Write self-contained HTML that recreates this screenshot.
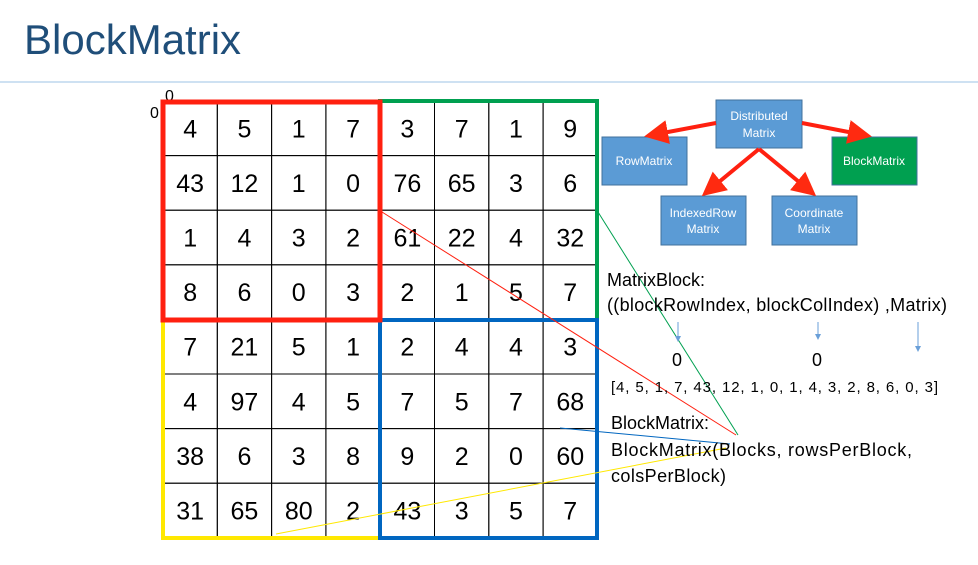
<!DOCTYPE html>
<html><head><meta charset="utf-8"><style>
body{margin:0;width:978px;height:560px;background:#fff;overflow:hidden;font-family:"Liberation Sans",sans-serif}
</style></head><body>
<svg width="978" height="560" style="font-family:'Liberation Sans',sans-serif">
<defs><marker id="ar" markerWidth="6" markerHeight="6" refX="4" refY="3" orient="auto"><path d="M0,0L6,3L0,6z" fill="#ff2a10"/></marker>
<marker id="ab" markerWidth="6" markerHeight="6" refX="4" refY="3" orient="auto"><path d="M0,0L6,3L0,6z" fill="#6a9fd8"/></marker></defs>
<text x="24" y="54" font-size="42" fill="#1f4e79">BlockMatrix</text>
<line x1="0" y1="82" x2="978" y2="82" stroke="#9dc3e6" stroke-width="1"/>
<text x="165" y="101" font-size="16">0</text>
<text x="150" y="118" font-size="16">0</text>
<g id="grid"></g>
<rect x="380" y="101" width="217" height="219" fill="none" stroke="#00a050" stroke-width="4"/>
<rect x="163" y="320" width="217" height="218" fill="none" stroke="#ffe800" stroke-width="4"/>
<rect x="380" y="320" width="217" height="218" fill="none" stroke="#0066c0" stroke-width="4"/>
<rect x="163" y="102" width="217" height="218" fill="none" stroke="#ff2010" stroke-width="5"/>
<line x1="382" y1="212" x2="736" y2="435" stroke="#ff2010"/>
<line x1="598" y1="212" x2="738" y2="435" stroke="#00a050"/>
<line x1="560" y1="428" x2="730" y2="444" stroke="#0066c0"/>
<line x1="276" y1="534" x2="726" y2="448" stroke="#ffe800"/>
<g font-size="12" fill="#fff" text-anchor="middle">
<rect x="716" y="100" width="86" height="48" fill="#5b9bd5" stroke="#41719c"/>
<text x="759" y="120">Distributed</text><text x="759" y="137">Matrix</text>
<rect x="602" y="137" width="85" height="48" fill="#5b9bd5" stroke="#41719c"/>
<text x="644" y="165">RowMatrix</text>
<rect x="832" y="137" width="85" height="48" fill="#00a050" stroke="#41719c"/>
<text x="874" y="165">BlockMatrix</text>
<rect x="661" y="196" width="85" height="49" fill="#5b9bd5" stroke="#41719c"/>
<text x="703" y="217">IndexedRow</text><text x="703" y="233">Matrix</text>
<rect x="772" y="196" width="85" height="49" fill="#5b9bd5" stroke="#41719c"/>
<text x="814" y="217">Coordinate</text><text x="814" y="233">Matrix</text>
</g>
<g stroke="#ff2010" stroke-width="4" marker-end="url(#ar)">
<line x1="716" y1="123" x2="652" y2="135"/><line x1="802" y1="123" x2="864" y2="135"/>
<line x1="759" y1="149" x2="708" y2="191"/><line x1="759" y1="149" x2="810" y2="191"/>
</g>
<g stroke="#6a9fd8" stroke-width="1" marker-end="url(#ab)">
<line x1="678" y1="322" x2="678" y2="340"/><line x1="818" y1="322" x2="818" y2="338"/><line x1="918" y1="322" x2="918" y2="350"/>
</g>
<g font-size="18" fill="#000">
<text x="607" y="286">MatrixBlock:</text>
<text x="607" y="311" textLength="340">((blockRowIndex, blockColIndex) ,Matrix)</text>
<text x="672" y="366">0</text>
<text x="812" y="366">0</text>
<text x="611" y="392" font-size="15" textLength="327">[4, 5, 1, 7, 43, 12, 1, 0, 1, 4, 3, 2, 8, 6, 0, 3]</text>
<text x="611" y="429">BlockMatrix:</text>
<text x="611" y="456" textLength="301">BlockMatrix(Blocks, rowsPerBlock,</text>
<text x="611" y="482" textLength="115">colsPerBlock)</text>
</g>
</svg>
<script>
const values=[[4,5,1,7,3,7,1,9],[43,12,1,0,76,65,3,6],[1,4,3,2,61,22,4,32],[8,6,0,3,2,1,5,7],
[7,21,5,1,2,4,4,3],[4,97,4,5,7,5,7,68],[38,6,3,8,9,2,0,60],[31,65,80,2,43,3,5,7]];
const g=document.getElementById('grid'),NS='http://www.w3.org/2000/svg';
const x0=163,y0=101,cw=54.3,ch=54.6;
for(let r=0;r<8;r++)for(let c=0;c<8;c++){
const rc=document.createElementNS(NS,'rect');
rc.setAttribute('x',x0+c*cw);rc.setAttribute('y',y0+r*ch);rc.setAttribute('width',cw);rc.setAttribute('height',ch);
rc.setAttribute('fill','none');rc.setAttribute('stroke','#000');rc.setAttribute('stroke-width','1');


g.appendChild(rc);
const t=document.createElementNS(NS,'text');
t.setAttribute('x',x0+c*cw+cw/2);t.setAttribute('y',y0+r*ch+ch/2+9);t.setAttribute('text-anchor','middle');t.setAttribute('font-size','25');
t.textContent=values[r][c];


g.appendChild(t);}
</script>
</body></html>
